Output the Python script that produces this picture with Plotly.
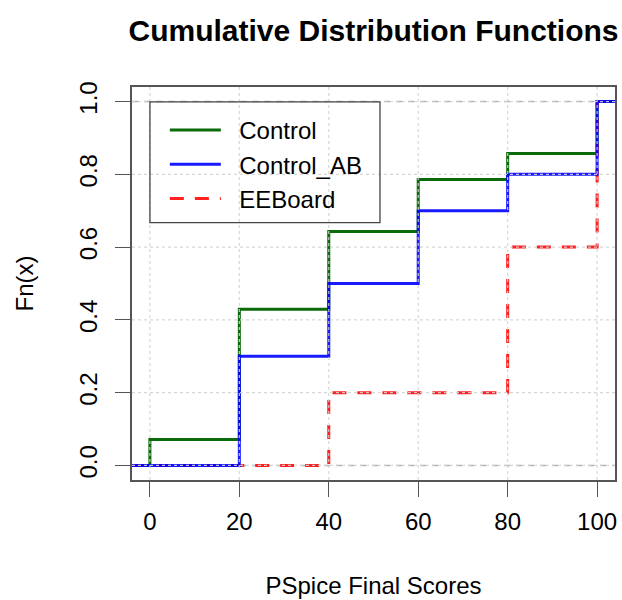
import plotly.graph_objects as go

# ---- data ----
scores = [0, 20, 40, 60, 80, 100]
control = [0.071, 0.429, 0.643, 0.786, 0.857, 1.0]
control_ab = [0.0, 0.3, 0.5, 0.7, 0.8, 1.0]
eeboard = [0.0, 0.0, 0.2, 0.2, 0.6, 1.0]

x_ticks = [0, 20, 40, 60, 80, 100]
y_ticks = [0.0, 0.2, 0.4, 0.6, 0.8, 1.0]
y_tick_labels = ["0.0", "0.2", "0.4", "0.6", "0.8", "1.0"]
ref_levels = [0, 1]

x_range = [-4, 104]
y_range = [-0.04, 1.04]
x_ext = [-10, 110]  # step functions run off both edges

FONT = "Liberation Sans, Arial, Helvetica, sans-serif"

W, H = 622, 600
ML, MR, MT, MB = 132, 5, 87, 119
PW, PH = W - ML - MR, H - MT - MB


def px_x(px):  # pixel -> paper x
    return (px - ML) / PW


def px_y(py):  # pixel -> paper y
    return 1 - (py - MT) / PH


def step_xy(xs, ys):
    return [x_ext[0]] + xs + [x_ext[1]], [0.0] + ys + [ys[-1]]


fig = go.Figure()
series = [
    ("Control", control, dict(color="#0B6B0B", width=3), 0),
    ("EEBoard", eeboard, dict(color="#FF2020", width=3, dash="14px,11px"), 2),
    ("Control_AB", control_ab, dict(color="rgba(0,0,255,0.9)", width=3), 1),
]
for name, vals, line, rank in series:
    xs, ys = step_xy(scores, vals)
    fig.add_trace(go.Scatter(x=xs, y=ys, mode="lines", name="\u00a0\u00a0" + name,
                             legendrank=rank,
                             line=dict(shape="hv", **line)))

shapes = []
for lv in ref_levels:
    shapes.append(dict(type="line", xref="paper", yref="y", x0=0, x1=1, y0=lv, y1=lv,
                       line=dict(color="#B3B3B3", width=1.5, dash="6px,6px"),
                       layer="below"))
# grid drawn over the curves (as in the R original)
for xv in x_ticks:
    shapes.append(dict(type="line", xref="x", yref="paper", x0=xv, x1=xv, y0=0, y1=1,
                       line=dict(color="rgba(211,211,211,0.9)", width=1.2, dash="dot"),
                       layer="above"))
for yv in y_ticks:
    shapes.append(dict(type="line", xref="paper", yref="y", x0=0, x1=1, y0=yv, y1=yv,
                       line=dict(color="rgba(211,211,211,0.9)", width=1.2, dash="dot"),
                       layer="above"))
# legend box
shapes.append(dict(type="rect", xref="paper", yref="paper",
                   x0=px_x(150), x1=px_x(381), y0=px_y(223), y1=px_y(102),
                   line=dict(color="#444444", width=1.3), fillcolor="rgba(255,255,255,0)",
                   layer="above"))

fig.update_layout(
    width=W, height=H,
    margin=dict(l=ML, r=MR, t=MT, b=MB),
    paper_bgcolor="white", plot_bgcolor="white",
    font=dict(family=FONT, size=24, color="black"),
    title=dict(text="<b>Cumulative Distribution Functions</b>", x=0.5, xref="paper",
               y=1 - 30 / H, yanchor="middle", xanchor="center",
               font=dict(size=30, family=FONT, color="black")),
    showlegend=True,
    legend=dict(x=px_x(165), y=px_y(108), xanchor="left", yanchor="top",
                bgcolor="rgba(0,0,0,0)", borderwidth=0, itemwidth=51,
                font=dict(size=24, family=FONT, color="black")),
    shapes=shapes,
)

fig.update_xaxes(range=x_range, tickvals=x_ticks, ticks="outside", ticklen=15,
                 tickcolor="#555555", tickwidth=1.3, showline=True, mirror=True,
                 linecolor="#555555", linewidth=1.5, showgrid=False,
                 zeroline=False, ticklabelstandoff=4,
                 title=dict(text="PSpice Final Scores", standoff=44,
                            font=dict(size=24, family=FONT)))
fig.update_yaxes(range=y_range, tickvals=y_ticks, ticktext=y_tick_labels, tickangle=-90,
                 ticks="outside", ticklen=15, tickcolor="#555555", tickwidth=1.3,
                 showline=True, mirror=True, linecolor="#555555", linewidth=1.5,
                 showgrid=False, zeroline=False, ticklabelstandoff=9,
                 title=dict(text="Fn(x)", standoff=34, font=dict(size=24, family=FONT)))

# remove the default 8px page margin so the 622x600 figure fills the window
fig.write_html("out.html", config={"displayModeBar": False},
               post_script="document.body.style.margin='0';"
                           "document.body.style.overflow='hidden';")
